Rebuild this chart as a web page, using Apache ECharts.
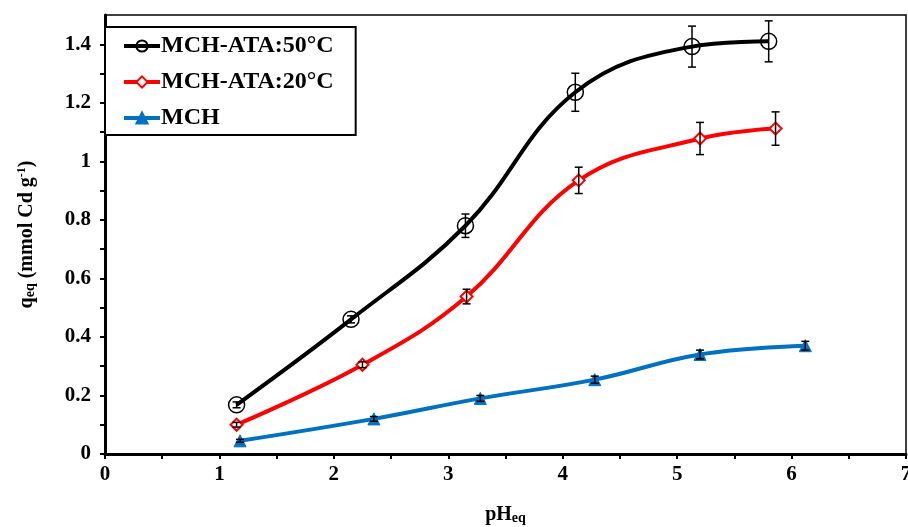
<!DOCTYPE html>
<html><head><meta charset="utf-8">
<script src="https://cdn.jsdelivr.net/npm/echarts@6/dist/echarts.min.js"></script>
<style>html,body{margin:0;padding:0;background:#fff}#c{width:908px;height:527px}</style>
</head><body><div id="c"></div>
<script>
// Data
const seriesNames = ['MCH-ATA:50°C', 'MCH-ATA:20°C', 'MCH'];
const ph50 = [1.15, 2.15, 3.15, 4.11, 5.13, 5.80];
const q50 = [0.168, 0.46, 0.78, 1.236, 1.392, 1.41];
const err50 = [0.01, 0.012, 0.04, 0.065, 0.07, 0.07];
const ph20 = [1.15, 2.25, 3.16, 4.14, 5.20, 5.86];
const q20 = [0.10, 0.305, 0.538, 0.935, 1.078, 1.112];
const err20 = [0.008, 0.01, 0.025, 0.045, 0.055, 0.057];
const phM = [1.18, 2.35, 3.28, 4.28, 5.20, 6.12];
const qM = [0.045, 0.12, 0.19, 0.254, 0.34, 0.37];
const errM = [0.005, 0.008, 0.01, 0.012, 0.015, 0.015];
const xTickLabels = ['0','1','2','3','4','5','6','7'];

const FONT = 'Liberation Serif';
const zip = (a, b) => a.map((v, i) => [v, b[i]]);
const zip3 = (a, b, c) => a.map((v, i) => [v, b[i], c[i]]);

function errRender(params, api) {
  const x = api.value(0), y = api.value(1), e = api.value(2);
  const hi = api.coord([x, y + e]), lo = api.coord([x, y - e]);
  const w = 4;
  const st = { stroke: '#000', lineWidth: 1.5 };
  return { type: 'group', children: [
    { type: 'line', shape: { x1: hi[0], y1: hi[1], x2: lo[0], y2: lo[1] }, style: st },
    { type: 'line', shape: { x1: hi[0] - w, y1: hi[1], x2: hi[0] + w, y2: hi[1] }, style: st },
    { type: 'line', shape: { x1: lo[0] - w, y1: lo[1], x2: lo[0] + w, y2: lo[1] }, style: st }
  ]};
}

const colors = ['#000000', '#ff0000', '#0070c0'];
const chart = echarts.init(document.getElementById('c'), null, { renderer: 'canvas' });
chart.setOption({
  animation: false,
  backgroundColor: '#fff',
  grid: { left: 105, right: 2, top: 15, bottom: 73, containLabel: false, outerBoundsMode: 'none',
    show: true, borderColor: '#000', borderWidth: 1.5, backgroundColor: 'transparent' },
  legend: {
    left: 105, top: 27, orient: 'vertical',
    backgroundColor: '#fff', borderColor: '#000', borderWidth: 2,
    padding: [7, 22, 5, 17], itemGap: 12, itemWidth: 36, itemHeight: 14,
    lineStyle: { width: 4 },
    textStyle: { fontFamily: FONT, fontWeight: 'bold', fontSize: 24, color: '#000', padding: [0, 0, 0, -4] },
    data: seriesNames
  },
  xAxis: {
    type: 'value', min: 0, max: 7, interval: 0.5,
    name: '{a|pH}{s|eq}', nameLocation: 'middle', nameGap: 50,
    nameTextStyle: { fontFamily: FONT, fontWeight: 'bold', color: '#000',
      rich: { a: { fontFamily: FONT, fontWeight: 'bold', fontSize: 20, color: '#000' },
              s: { fontFamily: FONT, fontWeight: 'bold', fontSize: 14, color: '#000', verticalAlign: 'bottom', padding: [7, 0, 0, 0] } } },
    axisLine: { show: true, lineStyle: { color: '#000', width: 3 } },
    axisTick: { show: true, inside: false, length: 5, lineStyle: { color: '#000', width: 2 } },
    axisLabel: { fontFamily: FONT, fontWeight: 'bold', fontSize: 21, color: '#000', margin: 10,
      formatter: v => (Math.abs(v - Math.round(v)) < 1e-6 ? xTickLabels[Math.round(v)] : '') },
    splitLine: { show: false }
  },
  yAxis: {
    type: 'value', min: 0, max: 1.5, interval: 0.1,
    name: '{a|q}{s|eq}{a| (mmol Cd g}{p|-1}{a|)}', nameLocation: 'middle', nameGap: 68, nameRotate: 90,
    nameTextStyle: { fontFamily: FONT, fontWeight: 'bold', color: '#000',
      rich: { a: { fontFamily: FONT, fontWeight: 'bold', fontSize: 20, color: '#000' },
              s: { fontFamily: FONT, fontWeight: 'bold', fontSize: 14, color: '#000', verticalAlign: 'bottom', padding: [7, 0, 0, 0] },
              p: { fontFamily: FONT, fontWeight: 'bold', fontSize: 12, color: '#000', verticalAlign: 'top' } } },
    axisLine: { show: true, lineStyle: { color: '#000', width: 3 } },
    axisTick: { show: true, inside: false, length: 5, lineStyle: { color: '#000', width: 2 } },
    axisLabel: { fontFamily: FONT, fontWeight: 'bold', fontSize: 21, color: '#000', margin: 14, showMaxLabel: false,
      formatter: v => { const k = Math.round(v * 10); return (k % 2 === 0 && k < 15) ? String(k / 10) : ''; } },
    splitLine: { show: false }
  },
  series: [
    { name: seriesNames[0], type: 'line', smooth: 0.4, data: zip(ph50, q50), color: colors[0],
      lineStyle: { width: 4, color: colors[0] }, symbol: 'circle', symbolSize: 16,
      itemStyle: { color: 'transparent', borderColor: colors[0], borderWidth: 1.5 }, z: 3 },
    { name: seriesNames[1], type: 'line', smooth: 0.4, data: zip(ph20, q20), color: colors[1],
      lineStyle: { width: 4, color: colors[1] }, symbol: 'diamond', symbolSize: 12,
      itemStyle: { color: '#fff', borderColor: colors[1], borderWidth: 2 }, z: 3 },
    { name: seriesNames[2], type: 'line', smooth: 0.4, data: zip(phM, qM), color: colors[2],
      lineStyle: { width: 4, color: colors[2] }, symbol: 'triangle', symbolSize: 12,
      itemStyle: { color: colors[2], borderColor: colors[2], borderWidth: 1 }, z: 3 },
    { type: 'custom', renderItem: errRender, data: zip3(ph50, q50, err50), encode: { x: 0, y: 1 }, z: 5, silent: true },
    { type: 'custom', renderItem: errRender, data: zip3(ph20, q20, err20), encode: { x: 0, y: 1 }, z: 5, silent: true },
    { type: 'custom', renderItem: errRender, data: zip3(phM, qM, errM), encode: { x: 0, y: 1 }, z: 5, silent: true }
  ]
});
</script></body></html>
